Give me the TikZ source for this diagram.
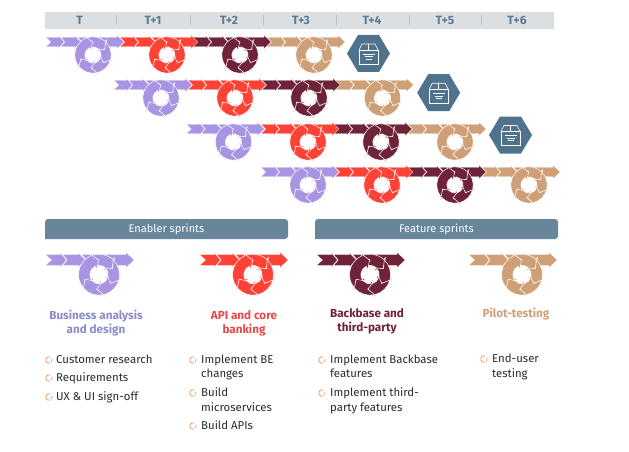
\documentclass[tikz,border=0pt]{standalone}
\usepackage{fontspec}
\setmainfont{Fira Sans}
\definecolor{cpurple}{HTML}{A993E3}
\definecolor{cred}{HTML}{FF4236}
\definecolor{cmaroon}{HTML}{6E2339}
\definecolor{ctan}{HTML}{CFA077}
\definecolor{ctpurple}{HTML}{8A8BCB}
\definecolor{ctred}{HTML}{E8484A}
\definecolor{cbar}{HTML}{DCDFE2}
\definecolor{cslate}{HTML}{67869A}
\definecolor{chex}{HTML}{4F738C}
\definecolor{chead}{HTML}{5A7B92}
\definecolor{cbul}{HTML}{F08A4B}
\definecolor{ctxt}{HTML}{2B2B2B}
\tikzset{
  seg/.style={fill=#1,draw=white,draw opacity=.55,line width=.3pt,line join=miter},
  ringseg/.style={fill=#1,draw=white,draw opacity=.9,line width=.55pt,line join=miter},
  barlabel/.style={font=\fontsize{12}{14}\selectfont\bfseries,text=chead,anchor=center,inner sep=0pt},
  sep/.style={draw=chead!45,line width=.6pt},
  headbox/.style={fill=cslate},
  headlabel/.style={font=\fontsize{11}{14}\selectfont,text=white,anchor=center,inner sep=0pt},
  title/.style={font=\fontsize{11.7}{14}\selectfont\bfseries,anchor=base,inner sep=0pt},
  item/.style={font=\fontsize{11.4}{14}\selectfont,text=ctxt,anchor=base west,inner sep=0pt},
  bul/.style={draw=cbul,line width=.7pt},
  hexfill/.style={fill=chex},
  boxline/.style={draw=white,line width=.65pt}
}
% x, y (row axis), scale, colour
\newcommand\sprintIcon[4]{%
\begin{scope}[shift={(#1,-#2)},scale=#3]
  \path[seg=#4] (50,4.7) -- (71,4.7) -- (71,6.6) -- (78,0) -- (71,-6.6) -- (71,-4.7) -- (50,-4.7) -- (54,0) -- cycle;
  \path[seg=#4] (32,4.7) -- (47,4.7) -- (47,5.8) -- (53,0) -- (47,-5.8) -- (47,-4.7) -- (32,-4.7) -- (36,0) -- cycle;
  \path[seg=#4] (15,4.7) -- (29,4.7) -- (29,5.8) -- (35,0) -- (29,-5.8) -- (29,-4.7) -- (15,-4.7) -- (19,0) -- cycle;
  \path[seg=#4] (0,4.7) -- (13,4.7) -- (13,5.8) -- (18,0) -- (13,-5.8) -- (13,-4.7) -- (0,-4.7) -- (5,0) -- cycle;
  \begin{scope}[shift={(47,-13)}]
    \foreach \a/\b in {112/26,46/-35,-15/-97,-77/-160,-140/-268}{
      \pgfmathsetmacro\c{\b+22}
      \pgfmathsetmacro\n{\a-22}
      \path[ringseg=#4] (\a:18.2) arc[start angle=\a,end angle=\c,radius=18.2]
        -- (\c:20.6) -- (\b:13) -- (\c:5) -- (\c:8.2)
        arc[start angle=\c,end angle=\a,radius=8.2] -- (\n:13) -- cycle;
    }
  \end{scope}
\end{scope}}
% centre x, y
\newcommand\shipHex[2]{%
\begin{scope}[shift={(#1,-#2)}]
  \path[hexfill] (-21.5,0) -- (-10.5,18.5) -- (10.5,18.5) -- (21.5,0) -- (10.5,-18.5) -- (-10.5,-18.5) -- cycle;
  \draw[boxline] (-9.5,3.5) rectangle (9.5,-10.5);
  \draw[boxline] (-9.5,3.5) -- (-6.5,9.5) -- (6.5,9.5) -- (9.5,3.5);
  \draw[boxline] (0,9.5) -- (0,3.5);
  \draw[boxline] (-6,-0.8) -- (6,-0.8);
  \draw[boxline] (-4,-3.3) -- (4,-3.3);
  \draw[boxline] (-3,-5.8) -- (3,-5.8);
\end{scope}}
\newcommand\bulletMark[2]{%
  \draw[bul] (#1,-#2)++(70:3.3) arc[start angle=70,end angle=300,radius=3.3];
  \draw[bul] (#1,-#2)++(325:3.3) arc[start angle=325,end angle=385,radius=3.3];
}
\begin{document}
\begin{tikzpicture}[x=1pt,y=1pt]
\useasboundingbox (0,0) rectangle (629,-452);
\fill[white] (0,0) rectangle (629,-452);
% top bar
\fill[cbar] (45,-12) rectangle (554,-29);
\foreach \x in {116,190,263,336,409,481}{\draw[sep] (\x,-15) -- (\x,-25);}
\node[barlabel] (t0) at (79.5,-20) {T};
\node[barlabel] (t1) at (153,-20) {T+1};
\node[barlabel] (t2) at (229,-20) {T+2};
\node[barlabel] (t3) at (301,-20) {T+3};
\node[barlabel] (t4) at (372,-20) {T+4};
\node[barlabel] (t5) at (445,-20) {T+5};
\node[barlabel] (t6) at (517,-20) {T+6};
% rows
\sprintIcon{267}{42}{1}{ctan}\sprintIcon{193}{42}{1}{cmaroon}\sprintIcon{120}{42}{1}{cred}\sprintIcon{46}{42}{1}{cpurple}
\shipHex{368.5}{53.5}
\sprintIcon{335.5}{85}{1}{ctan}\sprintIcon{262}{85}{1}{cmaroon}\sprintIcon{188}{85}{1}{cred}\sprintIcon{114}{85}{1}{cpurple}
\shipHex{438.7}{92.7}
\sprintIcon{408}{129}{1}{ctan}\sprintIcon{334}{129}{1}{cmaroon}\sprintIcon{261}{129}{1}{cred}\sprintIcon{186.5}{129}{1}{cpurple}
\shipHex{510.5}{135}
\sprintIcon{482}{172}{1}{ctan}\sprintIcon{408}{172}{1}{cmaroon}\sprintIcon{335}{172}{1}{cred}\sprintIcon{261}{172}{1}{cpurple}
% headers
\path[headbox,rounded corners=3pt] (45,-239) -- (45,-219) -- (288,-219) -- (288,-239) [sharp corners] -- cycle;
\node[headlabel] (enabler) at (166.5,-229) {Enabler sprints};
\path[headbox,rounded corners=3pt] (315,-239) -- (315,-219) -- (558,-219) -- (558,-239) [sharp corners] -- cycle;
\node[headlabel] (feature) at (436.5,-229) {Feature sprints};
% big icons
\sprintIcon{46}{260}{1.128}{cpurple}
\sprintIcon{200}{260}{1.128}{cred}
\sprintIcon{317}{260}{1.128}{cmaroon}
\sprintIcon{469}{260}{1.128}{ctan}
% titles
\node[title,text=ctpurple] (ta1) at (96,-319) {Business analysis};
\node[title,text=ctpurple] (ta2) at (96,-333) {and design};
\node[title,text=ctred] (tb1) at (244,-319) {API and core};
\node[title,text=ctred] (tb2) at (244,-333) {banking};
\node[title,text=cmaroon] (tc1) at (367,-317) {Backbase and};
\node[title,text=cmaroon] (tc2) at (367,-331) {third-party};
\node[title,text=ctan] (td) at (516,-317) {Pilot-testing};
% lists
\bulletMark{49}{360}\bulletMark{49}{378}\bulletMark{49}{397}
\node[item] (i1) at (56,-363) {Customer research};
\node[item] (i2) at (56,-381) {Requirements};
\node[item] (i3) at (56,-400) {UX \& UI sign-off};
\bulletMark{193}{360}\bulletMark{193}{393}\bulletMark{193}{426}
\node[item] (i4) at (201,-363) {Implement BE};
\node[item] (i5) at (201,-377) {changes};
\node[item] (i6) at (201,-396.5) {Build};
\node[item] (i7) at (201,-411.5) {microservices};
\node[item] (i8) at (201,-429) {Build APIs};
\bulletMark{322}{360}\bulletMark{322}{393}
\node[item] (i9) at (330,-363) {Implement Backbase};
\node[item] (i10) at (330,-377) {features};
\node[item] (i11) at (330,-396.5) {Implement third-};
\node[item] (i12) at (330,-411) {party features};
\bulletMark{484}{359}
\node[item] (i13) at (492,-362.5) {End-user};
\node[item] (i14) at (492,-377) {testing};
\end{tikzpicture}
\end{document}
